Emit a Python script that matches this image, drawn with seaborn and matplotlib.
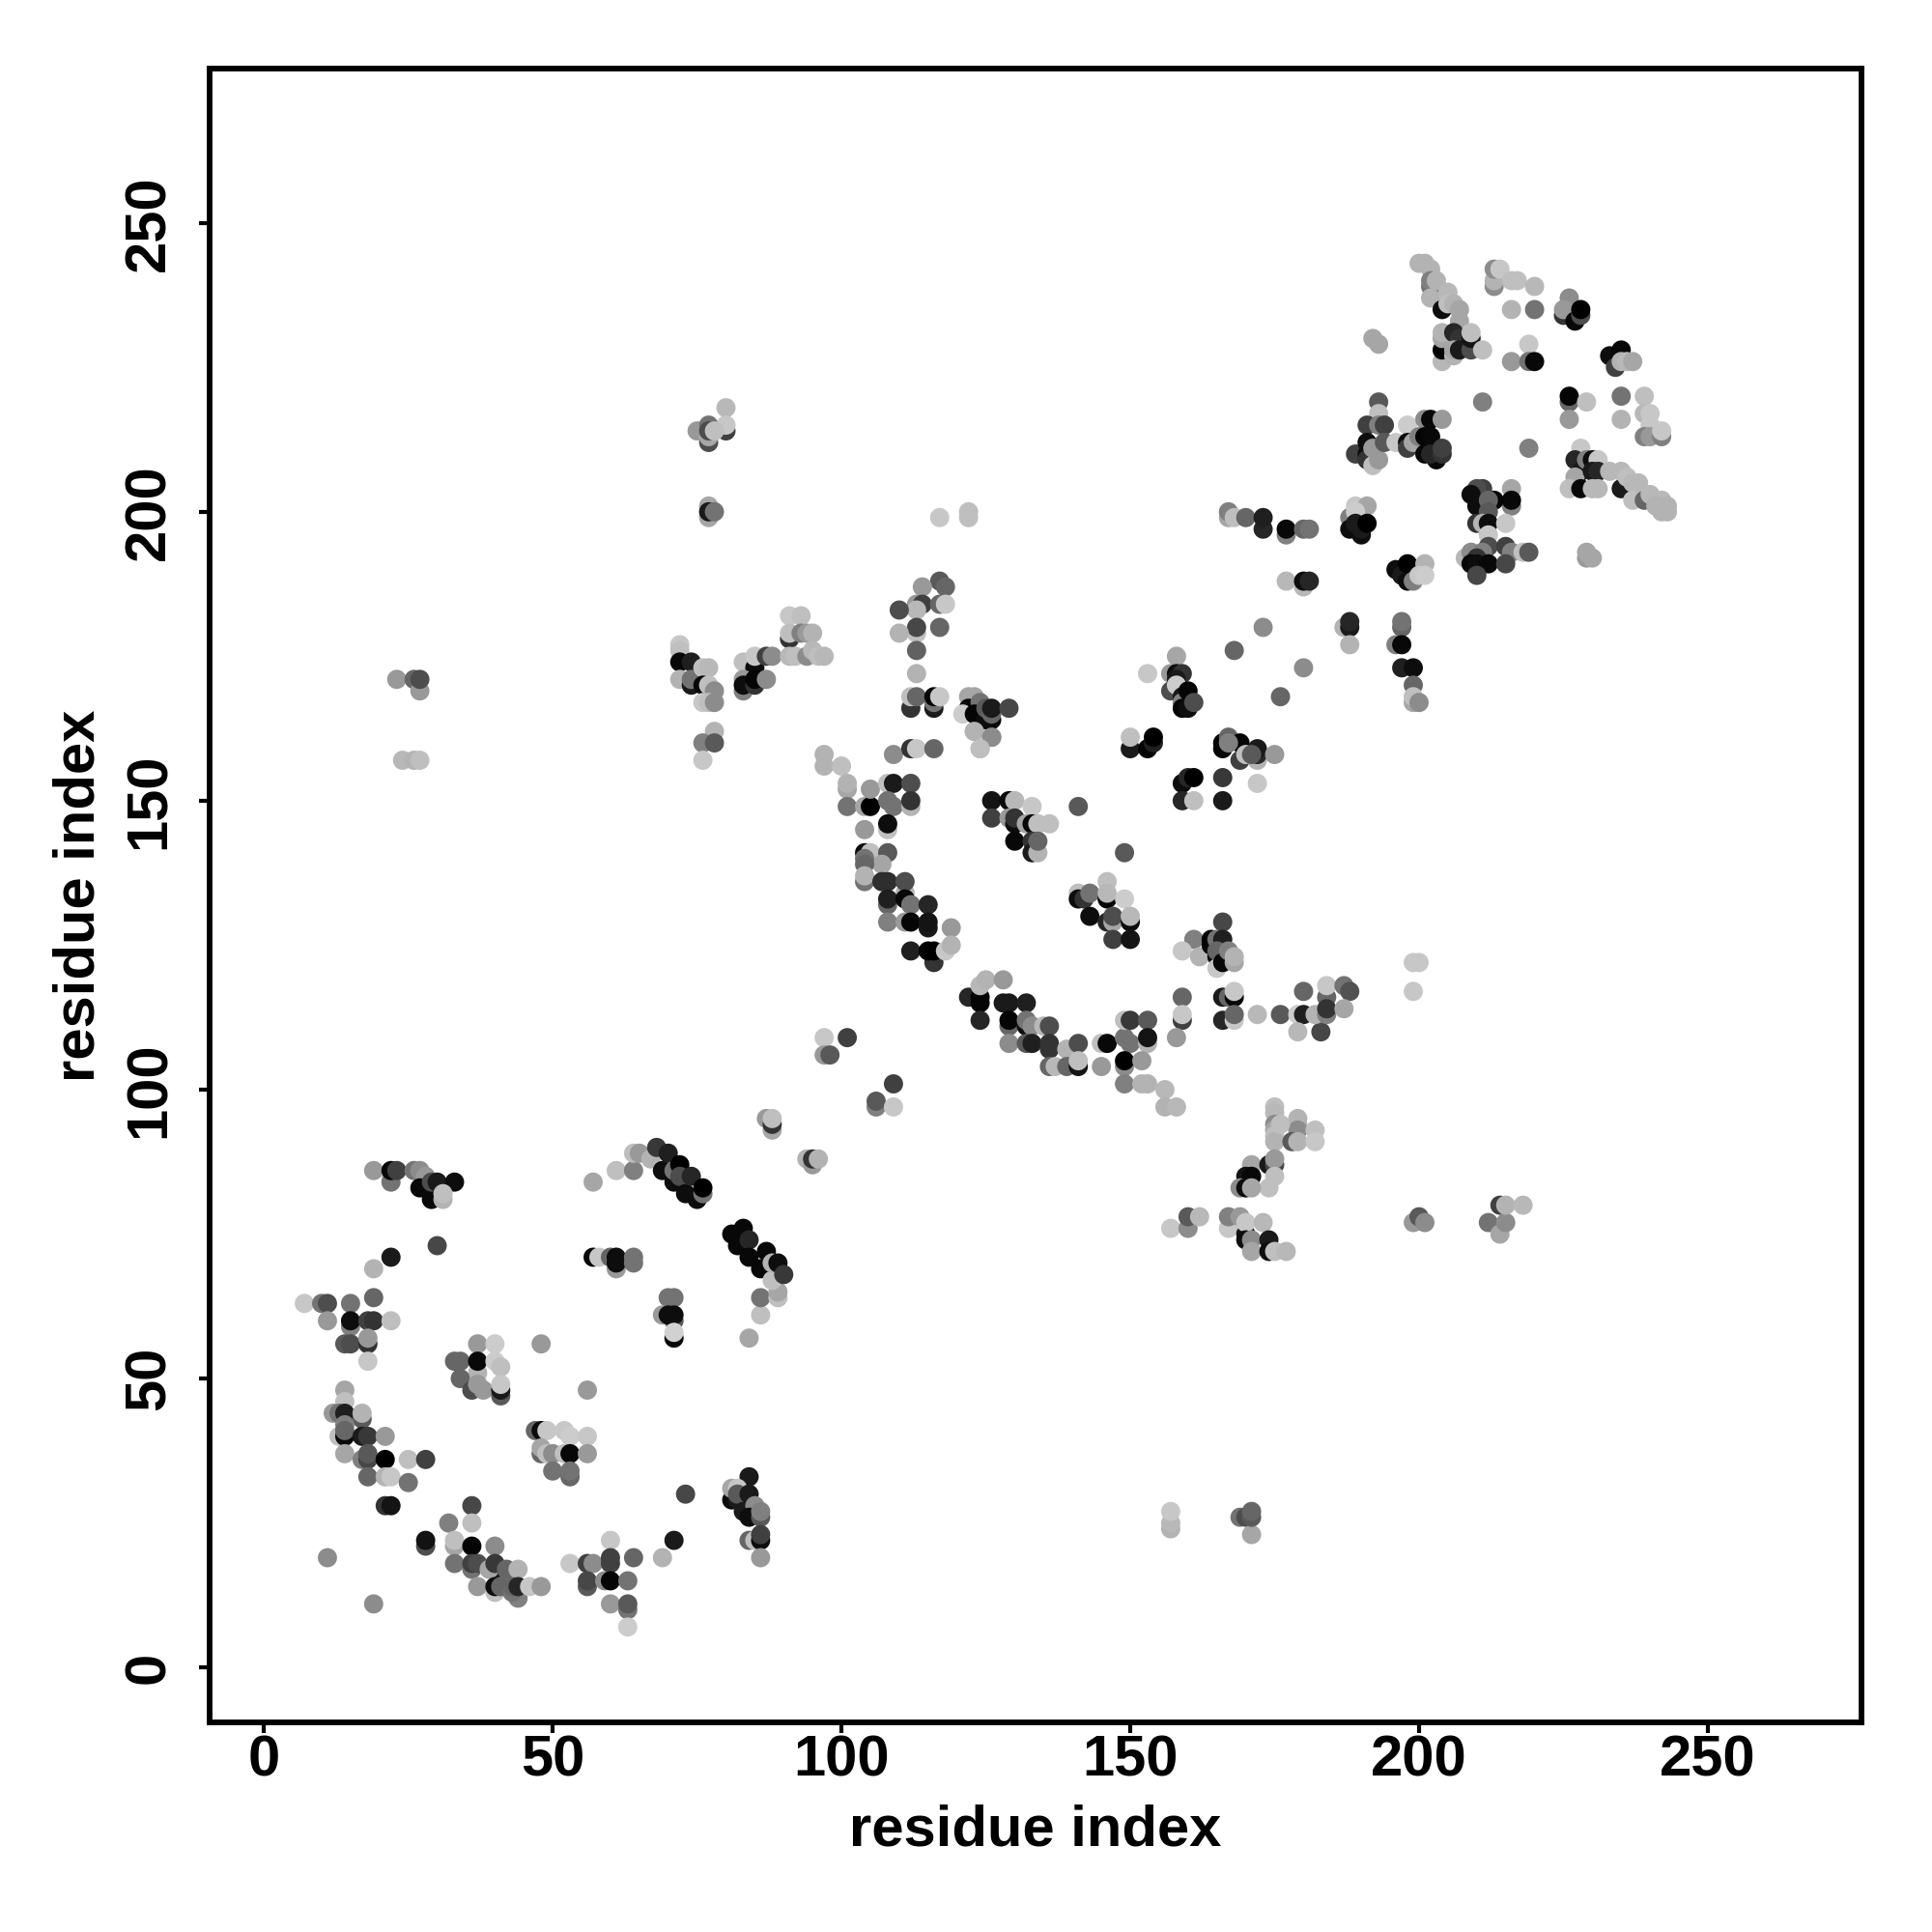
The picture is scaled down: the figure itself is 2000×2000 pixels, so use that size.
import matplotlib
matplotlib.use('Agg')
import numpy as np
import pandas as pd
import seaborn as sns
import matplotlib.pyplot as plt

# contacts per region: (residue i, residue j, grey level)
top_left = [(19,86,.6),(22,85,.8),(22,84,.45),(22,86,.03),(23,86,.25),(26,86,.45),(27,86,.55),(28,85,.6),
    (27,83,.03),(29,81,.03),(29,84,.3),(30,84,.1),(33,84,.05),(31,81,.7),(31,82,.75),(30,73,.28),(22,71,.1),(19,69,.7)]
left_60 = [(7,63,.78),(10,63,.45),(11,63,.3),(15,63,.45),(19,64,.4),(11,60,.6),(15,59,.5),(15,60,.05),(18,60,.25),
    (19,60,.2),(22,60,.75),(14,56,.35),(15,56,.3),(18,56,.2),(18,57,.6),(18,53,.78)]
group_50 = [(37,56,.6),(40,56,.8),(48,56,.6),(33,53,.4),(34,53,.4),(37,51,.7),(37,53,.03),(40,53,.8),(41,52,.75),
    (34,50,.4),(36,48,.3),(37,49,.6),(38,48,.6),(41,47,.35),(41,48,.1),(41,49,.78),(56,48,.6)]
group_40 = [(14,48,.65),(14,46,.75),(12,44,.6),(13,44,.45),(14,44,.12),(17,43,.35),(17,44,.7),(13,40,.75),(14,40,.03),
    (14,42,.5),(14,41,.4),(17,40,.1),(18,40,.22),(21,40,.6),(14,37,.65),(17,36,.5),(18,36,.28),(18,37,.35),(21,36,.0),
    (25,36,.75),(28,36,.25),(18,33,.4),(21,33,.7),(22,33,.78),(25,32,.45),(21,28,.2),(22,28,.08)]
group_mid40 = [(47,41,.4),(48,41,.05),(49,41,.78),(52,41,.78),(53,40,.8),(56,40,.78),(48,37,.4),(48,38,.65),(49,37,.75),
    (50,37,.55),(52,37,.75),(53,37,.03),(56,37,.6),(50,34,.45),(53,33,.4),(53,34,.45)]
group_84 = [(84,33,.1),(81,29,.05),(82,29,.1),(81,31,.65),(82,31,.78),(82,30,.35),(84,30,.1),(83,27,.1),(85,28,.55),
    (84,26,.05),(86,26,.35),(86,27,.5),(84,22,.4),(85,22,.75),(86,22,.05),(86,23,.25),(86,19,.6),(73,30,.28),(71,22,.1),(69,19,.7)]
bottom = [(36,28,.28),(36,25,.75),(32,25,.5),(28,21,.3),(28,22,.07),(11,19,.55),(19,11,.55),(33,21,.65),(33,22,.75),
    (36,21,.02),(40,21,.55),(33,18,.45),(36,17,.45),(36,18,.25),(37,18,.3),(40,17,.1),(39,17,.65),(40,18,.22),
    (42,17,.4),(44,17,.7),(37,14,.6),(40,13,.75),(40,14,.05),(41,14,.4),(44,12,.5),(43,13,.45),(43,14,.4),(44,14,.15),
    (46,14,.78),(48,14,.6),(53,18,.78),(56,18,.25),(57,18,.55),(60,22,.78),(60,18,.25),(60,19,.25),(64,19,.4),
    (56,14,.35),(56,15,.28),(59,15,.55),(60,15,.02),(63,15,.45),(60,11,.6),(63,10,.45),(63,11,.35),(63,7,.8)]
chain_86 = [(57,84,.65),(61,86,.75),(64,86,.5),(64,89,.75),(65,89,.6),(67,88,.7),(69,86,.05),(68,90,.22),(70,89,.12),
    (71,84,.05),(71,86,.45),(72,87,.0),(72,85,.3),(73,82,.05),(75,81,.05),(74,85,.15),(76,82,.45),(76,83,.0)]
row_71 = [(57,71,.03),(58,71,.78),(60,71,.4),(61,69,.6),(61,70,.05),(61,71,.05),(64,70,.45),(64,71,.45),
    (70,64,.45),(71,64,.45),(69,61,.6),(71,60,.35),(70,61,.05),(71,61,.05),(71,57,.03),(71,58,.82)]
chain_75 = [(84,57,.65),(86,61,.75),(86,64,.45),(89,64,.75),(89,65,.65),(81,75,.03),(82,73,.03),(83,76,.03),(84,74,.15),
    (84,71,.03),(87,72,.03),(86,69,.03),(88,67,.75),(88,70,.7),(89,70,.05),(90,68,.22),
    (87,95,.6),(88,93,.65),(88,94,.2),(88,95,.75),(94,88,.7),(95,87,.6),(95,88,.2),(96,88,.7)]
arc_150 = [(97,158,.7),(97,156,.7),(100,156,.75),(101,152,.65),(101,153,.7),(101,149,.45),(104,149,.65),(105,149,.0),
    (105,152,.6),(104,145,.6),(108,153,.75),(109,153,.1),(112,153,.3),(108,150,.45),(109,149,.45),(112,149,.7),(112,150,.2),
    (108,145,.75),(108,146,.05),(109,158,.55),(112,159,.2),(113,159,.78),(116,159,.4),(123,162,.65),(124,159,.72),(126,161,.5)]
top_160 = [(150,159,.1),(150,161,.75),(153,159,.02),(154,160,.12),(154,161,.0),(166,159,.02),(166,160,.02),(167,161,.4),
    (169,160,.02),(167,160,.5),(169,157,.25),(170,158,.75),(172,157,.7),(172,158,.15),(172,159,.1),(171,158,.35),(175,158,.6),
    (159,153,.05),(160,154,.15),(161,154,.0),(166,154,.22),(159,150,.15),(161,150,.75),(166,150,.1),(172,153,.78)]
group_146 = [(126,150,.08),(129,150,.03),(130,150,.72),(133,149,.78),(141,149,.35),(126,147,.25),(129,147,.6),(130,146,.05),
    (130,147,.2),(132,146,.65),(133,146,.03),(134,146,.75),(136,146,.75),(130,143,.03),(133,143,.2),(133,141,.1),(134,141,.7),
    (134,143,.4),(149,141,.35)]
arc_135 = [(104,141,.05),(105,141,.75),(108,141,.35),(107,139,.65),(104,140,.45),(104,139,.4),(104,136,.45),(104,137,.7),
    (107,136,.18),(108,136,.18),(111,134,.7),(111,136,.3),(108,132,.4),(108,133,.12),(111,133,.03),(112,132,.45),(115,132,.15),
    (108,129,.5),(111,129,.6),(112,129,.02),(115,128,.1),(115,129,.08),(119,128,.6),(112,124,.12),(116,122,.2),(115,124,.02),
    (116,124,.0),(118,124,.78),(119,125,.7)]
group_130 = [(141,134,.75),(141,133,.05),(142,133,.2),(143,134,.45),(146,136,.75),(146,133,.02),(146,134,.72),(149,133,.8),
    (143,130,.05),(146,129,.15),(147,129,.65),(147,130,.3),(150,129,.05),(150,130,.72),(147,126,.25),(150,126,.08),
    (166,129,.28),(161,126,.5),(159,124,.78),(162,123,.7),(164,125,.03),(164,126,.02),(165,126,.45),(166,126,.12),
    (165,123,.03),(165,124,.4),(165,121,.78),(166,122,.03),(167,124,.5),(168,122,.65),(168,123,.7)]
arc_110 = [(122,116,.15),(124,115,.02),(124,116,.02),(124,118,.72),(125,119,.7),(128,119,.6),(128,115,.1),(129,115,.1),
    (132,115,.12),(124,112,.15),(129,111,.4),(129,112,.02),(132,111,.05),(132,112,.45),(133,111,.55),(135,111,.72),(136,111,.3),
    (129,108,.55),(132,108,.35),(133,108,.12),(136,107,.2),(136,108,.2),(139,107,.7),(141,108,.3),(136,104,.4),(137,104,.72),
    (139,104,.4),(141,104,.08),(141,105,.75),(145,104,.6),(145,108,.75),(146,108,.03),(149,109,.45),(150,108,.45),
    (149,112,.75),(150,112,.22),(153,112,.35),(153,108,.7),(153,109,.08),(149,104,.55),(149,105,.0),(152,105,.6),
    (149,101,.5),(152,101,.7),(153,101,.7),(156,100,.72),(156,97,.7),(158,97,.72)]
row_113 = [(159,116,.4),(159,112,.25),(159,113,.78),(158,109,.6),(166,116,.1),(167,116,.4),(168,116,.02),(168,117,.78),
    (166,112,.15),(168,112,.78),(168,113,.4),(172,113,.72),(176,113,.35),(179,113,.8),(180,113,.12),(180,117,.4),(179,110,.72),
    (183,110,.28),(184,116,.4),(184,118,.78),(182,113,.7),(184,113,.5),(184,114,.2),(187,118,.45),(188,117,.32),(187,114,.65)]
mid_100 = [(97,109,.78),(101,109,.25),(97,106,.6),(98,106,.35),(109,101,.25),(106,97,.5),(106,98,.35),(109,97,.78)]
cross_90 = [(175,97,.75),(175,96,.72),(175,94,.55),(175,93,.65),(175,92,.75),(175,91,.7),(179,95,.7),(179,94,.7),(179,93,.55),
    (178,91,.35),(179,91,.7),(182,93,.75),(182,91,.78),(176,94,.75),(171,87,.65),(174,87,.1),(175,87,.28),(175,88,.6),
    (170,85,.08),(171,85,.03),(175,85,.75),(174,83,.75),(169,83,.55),(170,83,.05),(171,83,.65)]
cross_75 = [(157,76,.78),(160,76,.55),(160,78,.35),(162,78,.72),(167,76,.78),(167,78,.5),(169,78,.6),(170,75,.08),(170,77,.78),
    (173,77,.72),(170,74,.05),(171,74,.55),(174,74,.1),(171,72,.65),(174,72,.05),(175,72,.75),(177,72,.72)]
top_right = [(200,243,.7),(201,243,.7),(202,242,.7),(202,239,.45),(202,240,.5),(203,240,.7),(202,237,.7),(205,238,.72),
    (204,235,.05),(205,236,.75),(206,236,.7),(207,235,.65),(207,233,.65),(204,226,.72),(204,228,.02),(204,230,.65),(204,231,.7),
    (206,231,.15),(207,230,.2),(206,227,.7),(206,228,.65),(207,228,.1),(209,228,.3),(209,230,.08),(209,231,.75),(211,228,.75),
    (213,239,.55),(213,240,.7),(213,242,.55),(214,242,.78),(216,240,.75),(217,240,.75),(220,239,.72),(216,235,.7),(220,235,.45),
    (219,229,.78),(216,226,.6),(219,226,.45),(220,226,.03),(226,237,.55),(225,234,.2),(225,235,.6),(227,233,.03),(228,234,.3),(228,235,.0),
    (233,227,.05),(235,228,.03),(234,225,.25),(235,226,.7),(236,226,.72),(237,226,.65)]
right_215 = [(226,219,.4),(226,220,.02),(229,219,.75),(226,216,.6),(235,220,.45),(239,220,.75),(235,216,.7),(239,217,.72),
    (240,215,.78),(240,217,.78),(239,213,.5),(240,213,.6),(242,213,.5),(242,214,.78),(219,211,.5),(211,219,.5),(192,230,.65),(193,229,.65)]
center_212 = [(193,219,.35),(193,217,.75),(191,215,.25),(193,215,.5),(194,215,.25),(189,210,.25),(191,210,.05),(191,212,.05),
    (191,209,.2),(192,208,.75),(193,209,.6),(192,211,.6),(194,212,.35),(196,212,.78),(198,215,.8),(201,216,.55),(202,216,.03),
    (204,216,.6),(198,212,.05),(198,211,.25),(199,212,.65),(200,213,.5),(201,213,.02),(202,213,.03),(201,210,.03),(203,209,.03),
    (202,210,.15),(204,210,.2),(204,211,.25)]
tail_205 = [(228,211,.78),(227,209,.15),(228,207,.1),(227,206,.65),(226,204,.75),(228,204,.03),(229,209,.5),(230,209,.05),
    (231,209,.78),(230,207,.1),(231,207,.15),(230,204,.72),(231,204,.72),(233,207,.72),(235,204,.1),(235,207,.72),(236,206,.75),
    (237,205,.72),(238,205,.72),(237,202,.75),(239,202,.4),(240,203,.72),(242,202,.72),(241,201,.7),(242,200,.7),(243,200,.7),(243,201,.7),
    (229,192,.6),(229,193,.65),(230,192,.65)]
center_200 = [(216,204,.65),(216,201,.5),(216,202,.03),(211,204,.25),(210,204,.3),(209,203,.05),(213,202,.02),(210,201,.05),
    (212,202,.4),(212,200,.35),(210,198,.2),(211,198,.7),(212,198,.05),(215,198,.78),(212,196,.78),(212,194,.3),(215,194,.25),
    (216,193,.5),(218,193,.75),(219,193,.35),(208,192,.72),(209,193,.55),(211,193,.5),(210,192,.2),(209,191,.03),(210,191,.05),
    (212,191,.03),(210,189,.28),(215,191,.28)]
row_197 = [(167,199,.65),(167,200,.5),(168,199,.75),(170,199,.4),(173,197,.15),(173,199,.12),(177,196,.5),(177,197,.03),
    (180,197,.4),(181,197,.45),(189,201,.78),(191,201,.65),(188,199,.5),(188,197,.05),(189,200,.8),(189,198,.1),(190,196,.05),
    (190,197,.1),(191,198,.0),(177,188,.72),(180,187,.72),(180,188,.05),(181,188,.15),(196,190,.05),(197,189,.1),(198,188,.05),
    (198,191,.0),(199,188,.5),(201,191,.7),(200,189,.78),(201,189,.8)]
col_175 = [(173,180,.55),(168,176,.4),(180,173,.55),(176,168,.4),(187,180,.7),(188,180,.1),(188,181,.15),(188,177,.7),
    (197,180,.4),(197,181,.45),(196,177,.5),(197,177,.03),(197,173,.12),(199,173,.05),(199,170,.4),(199,167,.65),(199,168,.75),(200,167,.55),
    (158,175,.65),(153,172,.78),(157,172,.6),(157,169,.3),(158,172,.05),(159,172,.2),(158,171,.1),(158,170,.8),(159,168,.1),
    (159,167,.5),(160,169,.02),(159,166,.02),(160,166,.05),(161,167,.3)]
upper_75 = [(80,218,.72),(80,214,.25),(80,215,.78),(75,214,.6),(77,212,.3),(77,215,.45),(77,213,.65),(77,214,.3),(78,214,.75),
    (77,201,.65),(77,199,.65),(77,200,.1),(78,200,.45),(117,199,.78),(122,200,.75),(122,199,.75)]
group_172 = [(72,177,.78),(72,176,.75),(72,174,.03),(74,174,.12),(72,171,.7),(74,170,.1),(74,171,.45),(76,173,.75),(77,173,.72),
    (76,170,.03),(77,170,.75),(78,169,.55),(76,167,.78),(77,167,.75),(78,167,.55),(78,162,.7),(76,160,.5),(78,160,.35),(76,157,.78),
    (83,174,.75),(85,173,.05),(85,175,.78),(87,175,.25),(88,175,.55),(83,169,.5),(83,171,.6),(83,170,.05),(85,170,.2),(85,171,.02),(87,171,.55),
    (91,182,.78),(93,182,.75),(91,178,.2),(91,179,.75),(93,179,.5),(94,179,.6),(95,179,.7),(91,175,.72),(92,175,.75),(94,175,.55),
    (95,176,.72),(96,175,.75),(97,175,.72)]
group_180 = [(117,188,.35),(118,187,.4),(114,187,.6),(113,184,.6),(114,184,.25),(113,183,.72),(117,184,.4),(118,184,.78),(110,183,.3),
    (113,179,.75),(113,180,.28),(117,180,.4),(110,179,.7),(113,176,.38),(113,172,.7),(112,166,.2),(112,168,.75),(113,168,.4),
    (116,166,.1),(116,167,.45),(116,168,.02),(117,168,.78),(122,168,.65),(123,168,.65),(122,166,.03),(124,167,.45),(121,165,.8),
    (123,165,.02),(126,164,.03),(125,164,.05),(125,166,.35),(126,165,.4),(126,166,.1),(129,166,.28),(123,162,.7),(126,161,.55),(124,159,.75)]
isolated = [(23,171,.6),(26,171,.4),(27,169,.6),(27,171,.3),(24,157,.72),(26,157,.7),(27,157,.75),(157,24,.7),(157,25,.72),(157,27,.78),
    (169,26,.45),(170,26,.3),(171,23,.65),(171,26,.35),(171,27,.4),(199,122,.78),(200,122,.78),(199,117,.78),
    (199,77,.6),(200,78,.35),(201,77,.55),(212,77,.45),(214,75,.65),(214,80,.25),(215,77,.55),(215,80,.7),(218,80,.72)]

regions = [top_left, left_60, group_50, group_40, group_mid40, group_84, bottom, chain_86, row_71, chain_75, arc_150,
           top_160, group_146, arc_135, group_130, arc_110, row_113, mid_100, cross_90, cross_75, top_right, right_215,
           center_212, tail_205, center_200, row_197, col_175, upper_75, group_172, group_180, isolated]
tick_values = [0, 50, 100, 150, 200, 250]

df = pd.DataFrame(np.concatenate(regions), columns=['i', 'j', 'grey'])
df['grey'] = df['grey'].round(2)
df['shade'] = df['grey'].astype(str)

sns.set_style('white')
plt.rcParams['font.family'] = ['Liberation Sans', 'DejaVu Sans']
plt.rcParams['font.weight'] = 'bold'
plt.rcParams['text.color'] = 'black'
plt.rcParams['axes.labelcolor'] = 'black'
plt.rcParams['xtick.color'] = 'black'
plt.rcParams['ytick.color'] = 'black'

fig = plt.figure(figsize=(20, 20), dpi=100)
ax = fig.add_axes([217/2000, 1 - 1783/2000, (1927-217)/2000, (1783-71)/2000])

pal = {s: s for s in df['shade'].unique()}
sns.scatterplot(data=df, x='i', y='j', hue='shade', palette=pal, s=205, linewidth=0,
                legend=False, alpha=1, ax=ax)

ax.set_xlim(-9.4, 276.6)
ax.set_ylim(-9.5, 276.7)
ax.set_xticks(tick_values)
ax.set_yticks(tick_values)
ax.tick_params(axis='both', length=8, width=3, labelsize=43, left=True, bottom=True)
ax.tick_params(axis='x', pad=1)
ax.tick_params(axis='y', pad=17)
for t in ax.get_yticklabels():
    t.set_rotation(90)
    t.set_va('center')
ax.set_xlabel('residue index', fontsize=43, fontweight='bold', labelpad=12)
ax.set_ylabel('residue index', fontsize=43, fontweight='bold', labelpad=13)
for sp in ax.spines.values():
    sp.set_visible(True)
    sp.set_linewidth(4.2)
    sp.set_color('black')

plt.savefig('out.png', dpi=100)
